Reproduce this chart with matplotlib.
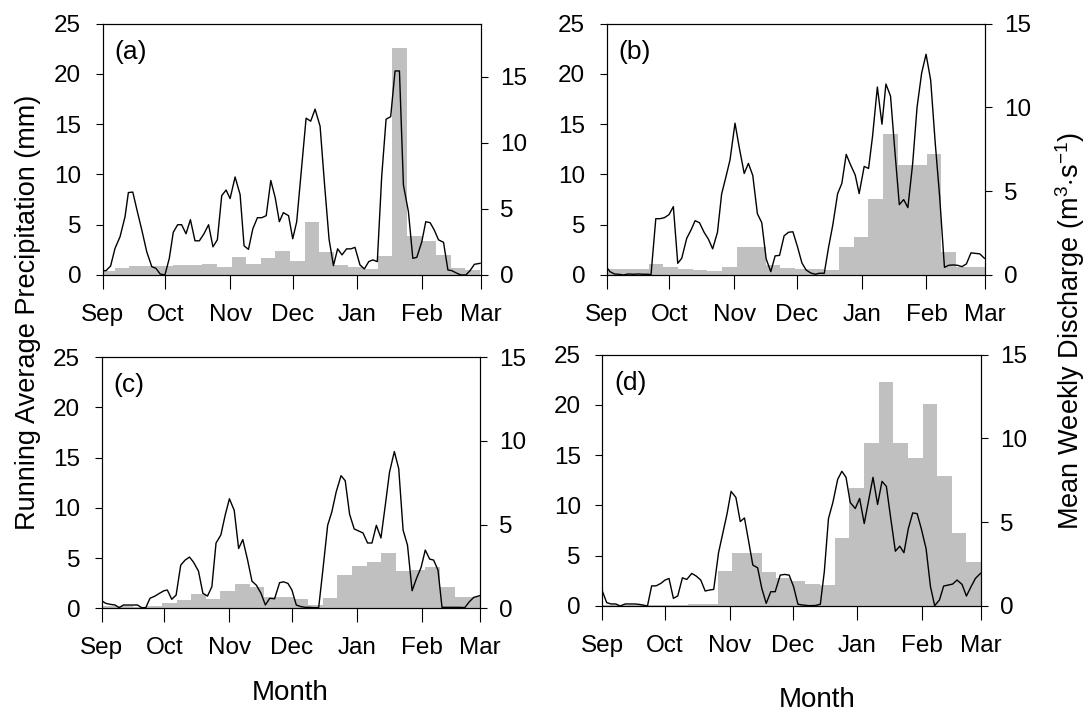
import numpy as np
import matplotlib
matplotlib.use("Agg")
import matplotlib.pyplot as plt
import matplotlib.transforms as mtransforms

plt.rcParams['font.family'] = ['Liberation Sans', 'DejaVu Sans']
plt.rcParams['mathtext.fontset'] = 'custom'
plt.rcParams['mathtext.rm'] = 'Liberation Sans'
plt.rcParams['mathtext.it'] = 'Liberation Sans:italic'

# days since 1 Sep, month ticks
month_days = [0, 30, 61, 91, 122, 153, 181]
month_names = ['Sep', 'Oct', 'Nov', 'Dec', 'Jan', 'Feb', 'Mar']

# ---- (a) ----
a_days = [0, 1.6, 3.8, 5.9, 8.3, 10.7, 12.3, 14.4, 16.6, 18.7, 21.1, 23.5, 25.5, 27.5, 29.8,
          31.9, 33.8, 35.9, 37.8, 39.9, 42, 44.2, 46.3, 48.5, 50.7, 52.8, 54.9, 57, 59.1, 61,
          63.4, 65.8, 67.7, 69.8, 71.9, 74.1, 76.2, 78.3, 80.5, 82.6, 84.6, 86.5, 89, 91, 92.9,
          95.3, 97.4, 99.6, 101.7, 104.1, 106.2, 108.4, 110.5, 112.5, 114.6, 116.8, 118.9, 120.8,
          123.2, 125.3, 127.4, 129.3, 131.5, 133.6, 135.7, 137.9, 140, 142.1, 144, 146.4, 148.5,
          150.4, 152.8, 154.7, 156.8, 158.7, 160.8, 163.2, 165.3, 167.2, 169.6, 171.6, 173.9,
          175.9, 178, 180.7]
a_precip = [0.43, 0.43, 0.9, 2.65, 3.8, 5.8, 8.2, 8.25, 6.3, 4.5, 2.3, 0.83, 0.66, 0.1, 0,
            1.66, 4.25, 5.0, 5.0, 4.1, 5.5, 3.4, 3.4, 4.1, 5.0, 2.8, 3.5, 7.9, 8.45, 7.6,
            9.75, 8.0, 2.9, 2.55, 4.6, 5.7, 5.7, 5.9, 9.4, 7.7, 5.3, 6.2, 5.9, 3.6, 5.3,
            10.8, 15.6, 15.3, 16.5, 14.8, 9.1, 3.55, 0.93, 2.6, 2.0, 2.6, 2.6, 2.75,
            1.0, 0.6, 1.33, 1.5, 1.33, 9.8, 15.5, 15.75, 20.3, 20.3, 8.95, 6.3, 1.66,
            1.75, 3.3, 5.3, 5.2, 4.5, 3.5, 3.25, 0.5, 0.43, 0.17, 0, 0,
            0.43, 1.06, 1.16]
a_discharge = [0.33, 0.55, 0.7, 0.7, 0.7, 0.75, 0.75, 0.8, 0.58, 1.36, 0.8, 1.25, 1.8,
               1.08, 3.97, 1.76, 0.73, 0.58, 0.45, 1.43, 17.2, 2.94, 2.59, 1.48, 0.5, 0.38]
a_week0 = -1.3

# ---- (b) ----
b_days = [0, 1.6, 3.7, 5.6, 8, 10.4, 12.8, 15.2, 17.5, 19.9, 21.2, 23.5, 25.5, 27.6, 29.8,
          31.9, 34, 35.9, 38.3, 40.4, 42.3, 44.4, 46.6, 48.7, 50.7, 53, 55, 57.1, 59, 61.4,
          63.5, 65.8, 67.8, 69.9, 72.1, 74.2, 76.3, 78.5, 80.6, 82.7, 84.9, 87, 89.1, 91.3,
          93.4, 95.4, 97.6, 99.8, 101.7, 104.1, 106.2, 108.2, 110.5, 112.5, 114.6, 116.8,
          118.9, 120.8, 123.2, 125.3, 127.2, 129.5, 131.7, 133.6, 135.8, 137.7, 140, 142.1,
          144.1, 146.4, 148.5, 150.7, 152.8, 155, 157.2, 159.3, 161.6, 163.6, 165.7, 167.9,
          170, 172.1, 174.3, 176.4, 178.5, 180.7]
b_precip = [0.76, 0.33, 0.1, 0.07, 0, 0.1, 0.07, 0.1, 0.07, 0.07, 0, 5.6, 5.6, 5.7, 6.0,
            6.8, 1.16, 1.66, 3.65, 4.5, 5.4, 5.2, 4.25, 3.55, 2.6, 4.25, 8.06, 9.8, 11.44, 15.1,
            12.6, 10.1, 11.1, 9.9, 6.1, 5.2, 1.6, 0.33, 1.9, 1.95, 3.9, 4.25, 4.3, 2.8,
            1.2, 0.5, 0.2, 0.07, 0.17, 0.17, 2.8, 5.0, 8.1, 9.1, 12.0, 10.9,
            9.95, 8.1, 10.8, 10.6, 13.8, 18.7, 15.0, 19.0, 17.8, 12.8, 7.0, 7.5,
            6.7, 11.1, 16.7, 20.1, 21.96, 19.4, 13.1, 7.8, 0.76, 0.96, 1.0, 0.96,
            0.83, 1.1, 2.2, 2.15, 2.1, 1.66]
b_discharge = [0.36, 0.36, 0.36, 0.65, 0.5, 0.34, 0.3, 0.26, 0.48, 1.69, 1.65, 0.6, 0.44,
               0.38, 0.34, 0.3, 1.69, 2.26, 4.52, 8.43, 6.59, 6.59, 7.2, 1.39, 0.5, 0.5]
b_week0 = -0.85

# ---- (c) ----
c_days = [0, 1.9, 4, 6.4, 8.3, 10.4, 12.7, 14.8, 17.1, 19.1, 21.1, 23.1, 25.5, 27.6, 29.8,
          31.4, 33.5, 35.6, 37.8, 39.9, 42, 43.9, 46.3, 48.4, 50.6, 52.7, 54.7, 57, 59.1,
          61.1, 63.4, 65.5, 67.5, 69.8, 71.9, 74, 76.2, 78.3, 80.4, 82.7, 85.1, 87, 89.1, 91,
          93.1, 95.3, 97.4, 99.5, 101.3, 103.8, 105.8, 108.1, 110.1, 112.2, 114.5, 116.5,
          118.6, 120.8, 122.9, 125, 127.2, 129.3, 131.4, 133.6, 135.7, 137.7, 140, 142.1,
          144.2, 146.3, 148.5, 150.6, 152.8, 154.8, 156.9, 158.8, 160.9, 162.8, 165.2,
          167.3, 169.5, 171.6, 173.7, 175.9, 178, 180.9]
c_precip = [0.76, 0.5, 0.4, 0.33, 0.07, 0.33, 0.33, 0.33, 0.33, 0.07, 0.07, 1.0, 1.22, 1.49, 1.75,
            1.82, 0.9, 1.32, 4.3, 4.8, 5.1, 4.6, 3.7, 1.5, 1.22, 2.15, 6.5, 7.3, 9.3,
            10.9, 9.75, 5.95, 6.84, 4.8, 2.7, 2.3, 1.5, 0.33, 1.0, 0.95, 2.55, 2.64, 2.48, 1.82,
            0.33, 0.17, 0.1, 0.1, 0.07, 0.07, 3.8, 8.26, 9.6, 11.6, 13.2, 12.7,
            9.36, 7.9, 7.7, 7.5, 6.5, 6.5, 8.26, 7.0, 10.3, 13.55, 15.6, 13.9,
            7.77, 6.28, 1.75, 2.98, 4.07, 5.8, 4.9, 4.8, 3.8, 0.1, 0.1,
            0.1, 0.1, 0.1, 0.07, 0.66, 1.09, 1.26]
c_discharge = [0.2, 0.15, 0.12, 0.1, 0.14, 0.34, 0.5, 0.83, 0.56, 1.01, 1.45, 1.29, 0.69,
               0.65, 0.55, 0.2, 0.6, 1.98, 2.52, 2.78, 3.31, 2.22, 2.28, 2.44, 1.25, 0.65, 0.65]
c_week0 = -6.2

# ---- (d) ----
d_days = [0, 2.1, 4.2, 6.4, 8.5, 10.9, 13, 15.2, 17.3, 19.3, 21.6, 23.6, 25.7, 28, 30,
          31.9, 34, 36.1, 38.3, 40.4, 42.8, 44.9, 47.1, 49.2, 51.3, 53.3, 55.6, 57.6, 59.7,
          61.6, 63.9, 66, 68, 69.9, 72, 74.3, 76.3, 78.4, 80.6, 82.7, 85.1, 87.2, 89.4, 91.5,
          93.6, 95.8, 98.7, 101.9, 104.3, 106.2, 108.2, 110.3, 112.6, 114.6, 116.6, 118.6,
          121, 123.1, 125.3, 127.4, 129.5, 131.7, 133.8, 135.9, 138, 140.2, 142.3, 144.3,
          146.4, 148.5, 150.6, 152.6, 154.9, 157, 159, 161.3, 163.3, 165.4, 167.6, 169.7,
          172.1, 174.2, 176.4, 178.5, 180.9]
d_precip = [1.49, 0.33, 0.2, 0.2, 0, 0.2, 0.2, 0.2, 0.17, 0.1, 0, 2.0, 2.0, 2.25, 2.58,
            2.74, 0.76, 1.0, 2.8, 2.64, 3.24, 2.98, 2.58, 1.49, 1.59, 1.65, 5.3, 7.2, 9.2,
            11.4, 10.8, 8.4, 8.76, 6.55, 4.07, 3.8, 1.75, 0.26, 1.42, 1.42, 3.07, 3.14, 3.07, 1.92,
            0.17, 0.1, 0.03, 0.05, 0.17, 3.4, 8.7, 10.3, 12.6, 13.4, 12.8, 10.3,
            9.7, 10.7, 8.2, 10.5, 12.8, 10.1, 12.4, 11.9, 8.7, 5.45, 5.95, 5.3,
            7.7, 9.26, 9.19, 7.7, 5.7, 1.92, 0.03, 0.6, 1.98, 2.08, 2.18, 2.58,
            2.15, 0.99, 1.92, 2.74, 3.24]
d_discharge = [0.04, 0.04, 0.04, 0.04, 0.06, 0.06, 0.12, 0.12, 2.1, 3.19, 3.19, 2.04, 1.65,
               1.49, 1.31, 1.23, 4.03, 7.06, 9.72, 13.37, 9.72, 8.85, 12.06, 7.74, 4.37, 2.64]
d_week0 = -0.8

panels = [
    ('(a)', a_days, a_precip, a_discharge, a_week0, 19, [0.0943, 0.6138, 0.3471, 0.3529]),
    ('(b)', b_days, b_precip, b_discharge, b_week0, 15, [0.5571, 0.6138, 0.3474, 0.3529]),
    ('(c)', c_days, c_precip, c_discharge, c_week0, 15, [0.0934, 0.1456, 0.3474, 0.3529]),
    ('(d)', d_days, d_precip, d_discharge, d_week0, 15, [0.5531, 0.1489, 0.3474, 0.3529]),
]

fig = plt.figure(figsize=(10.89, 7.12), dpi=100)
shift = mtransforms.ScaledTranslation(-8 / 100, 0, fig.dpi_scale_trans)

for label, days, precip, discharge, week0, qmax, pos in panels:
    ax = fig.add_axes(pos)
    ax2 = ax.twinx()
    ax.set_zorder(ax2.get_zorder() + 1)
    ax.patch.set_visible(False)

    # weekly discharge bars
    starts = week0 + 7 * np.arange(len(discharge))
    ax2.bar(starts, discharge, width=7, align='edge', color='#c0c0c0',
            edgecolor='none', linewidth=0)
    ax2.set_ylim(0, qmax)
    ax2.set_yticks([0, 5, 10, 15])

    # running average precipitation
    ax.plot(days, precip, color='black', linewidth=1.0)
    ax.set_xlim(0, 181)
    ax.set_ylim(0, 25)
    ax.set_yticks([0, 5, 10, 15, 20, 25])
    ax.set_xticks(month_days)
    ax.set_xticklabels(month_names)
    for t in ax.get_xticklabels():
        t.set_transform(t.get_transform() + shift)

    ax.tick_params(axis='x', direction='out', length=10, width=0.8, labelsize=17.5, pad=11)
    ax.tick_params(axis='y', direction='out', length=5, width=0.8, labelsize=17.5, pad=10.5)
    ax2.tick_params(axis='y', direction='out', length=5, width=0.8, labelsize=17.5, pad=9)
    for a in (ax, ax2):
        for s in a.spines.values():
            s.set_linewidth(0.8)

    ax.text(0.032, 0.935, label, transform=ax.transAxes, ha='left', va='top', fontsize=19)

fig.text(28 / 1089, 1 - 312 / 712, 'Running Average Precipitation (mm)', rotation=90,
         ha='center', va='center', fontsize=19.5)
fig.text(1070 / 1089, 1 - 331 / 712, r'Mean Weekly Discharge (m$^{3}$$\cdot$s$^{-1}$)',
         rotation=90, ha='center', va='center', fontsize=19.5)
fig.text(290 / 1089, 1 - 693 / 712, 'Month', ha='center', va='center', fontsize=20)
fig.text(817 / 1089, 1 - 700 / 712, 'Month', ha='center', va='center', fontsize=20)

fig.savefig('out.png', dpi=100)
